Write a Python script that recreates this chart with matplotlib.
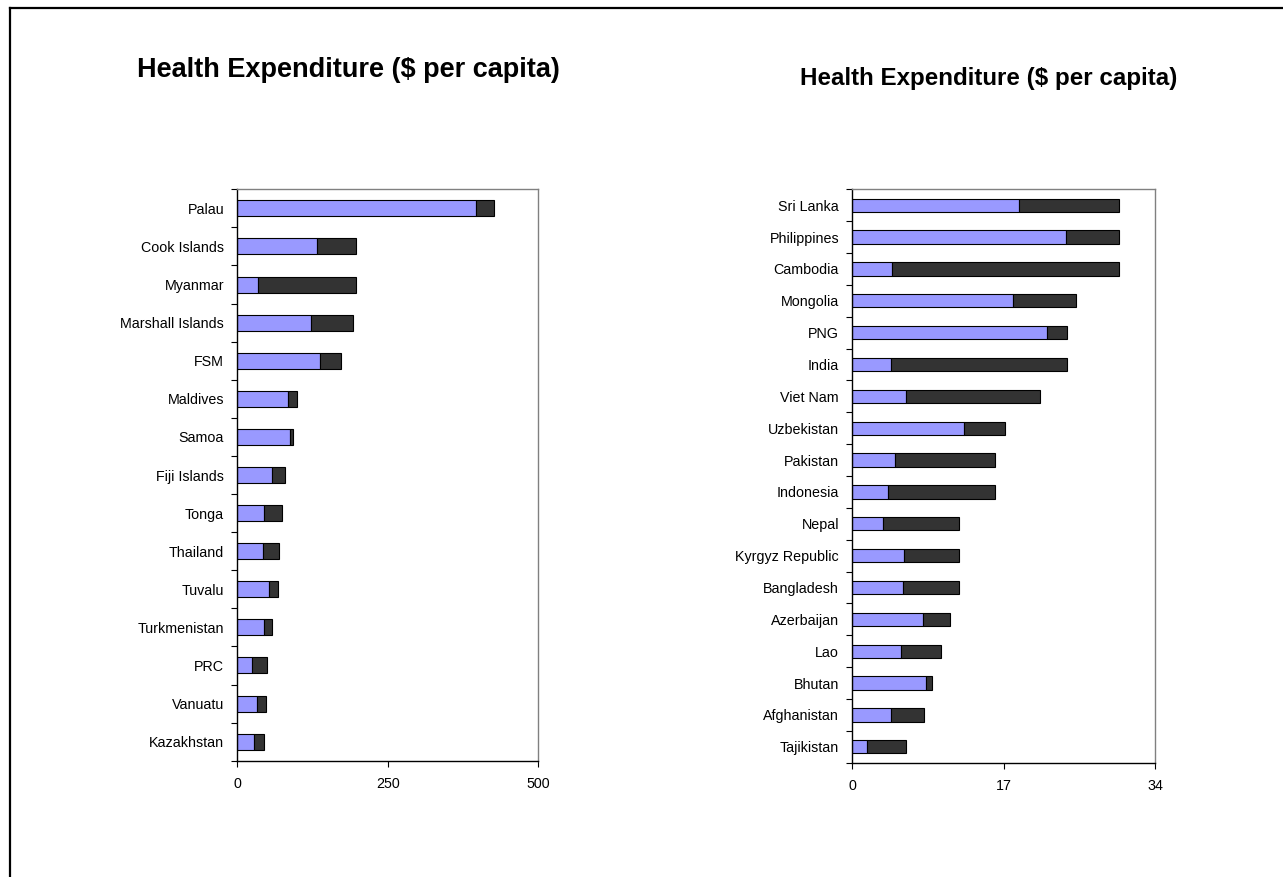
import matplotlib

matplotlib.use("Agg")
import matplotlib.pyplot as plt
from matplotlib.lines import Line2D

plt.rcParams["font.family"] = ["Liberation Sans", "DejaVu Sans"]

# ──────────────────────────────────────────────────────────────────────────────
# Data ($ per capita, blue segment + dark segment)
# ──────────────────────────────────────────────────────────────────────────────

left_names = [
    "Palau", "Cook Islands", "Myanmar", "Marshall Islands", "FSM", "Maldives",
    "Samoa", "Fiji Islands", "Tonga", "Thailand", "Tuvalu", "Turkmenistan",
    "PRC", "Vanuatu", "Kazakhstan",
]
left_public = [397, 133, 34, 122, 137, 84, 87, 58, 45, 43, 53, 45, 25, 32, 27]
left_private = [30, 65, 164, 70, 36, 15, 5, 21, 29, 27, 14, 13, 25, 15, 18]
left_ticks = [0, 250, 500]

right_names = [
    "Sri Lanka", "Philippines", "Cambodia", "Mongolia", "PNG", "India",
    "Viet Nam", "Uzbekistan", "Pakistan", "Indonesia", "Nepal",
    "Kyrgyz Republic", "Bangladesh", "Azerbaijan", "Lao", "Bhutan",
    "Afghanistan", "Tajikistan",
]
right_public = [18.7, 24.0, 4.5, 18.0, 21.9, 4.3, 6.0, 12.6, 4.8, 4.0, 3.5,
                5.8, 5.7, 7.9, 5.5, 8.3, 4.3, 1.7]
right_private = [11.3, 6.0, 25.5, 7.1, 2.2, 19.8, 15.1, 4.5, 11.2, 12.0, 8.5,
                 6.2, 6.3, 3.1, 4.5, 0.7, 3.7, 4.3]
right_ticks = [0, 17, 34]

TITLE = "Health Expenditure ($ per capita)"

BLUE = "#9999FF"
DARK = "#333333"
BAR_H = 0.42


def draw_panel(ax, names, public, private, ticks):
    n = len(names)
    ypos = list(range(n))
    ax.barh(ypos, public, height=BAR_H, color=BLUE, edgecolor="black", linewidth=0.8)
    ax.barh(ypos, private, left=public, height=BAR_H, color=DARK,
            edgecolor="black", linewidth=0.8)
    ax.set_ylim(n - 0.5, -0.5)
    ax.set_xlim(ticks[0], ticks[-1])

    # category labels, tick marks at category boundaries
    ax.set_yticks(ypos)
    ax.set_yticklabels(names, fontsize=10.3)
    ax.tick_params(axis="y", which="major", length=0, pad=9.5)
    ax.set_yticks([i - 0.5 for i in range(n + 1)], minor=True)
    ax.tick_params(axis="y", which="minor", length=4, width=0.8, direction="out")

    ax.set_xticks(ticks)
    ax.set_xticklabels([str(t) for t in ticks], fontsize=10.3)
    ax.tick_params(axis="x", length=4, width=0.8, direction="out", pad=8)

    for side in ("left", "bottom"):
        ax.spines[side].set_color("black")
        ax.spines[side].set_linewidth(1.0)
    for side in ("top", "right"):
        ax.spines[side].set_color("#808080")
        ax.spines[side].set_linewidth(1.0)


fig = plt.figure(figsize=(12.83, 8.77), dpi=100)

ax_l = fig.add_axes([0.18496, 0.13261, 0.2346, 0.65154])
ax_r = fig.add_axes([0.66430, 0.13033, 0.23593, 0.65382])

draw_panel(ax_l, left_names, left_public, left_private, left_ticks)
draw_panel(ax_r, right_names, right_public, right_private, right_ticks)

fig.text(348 / 1283, 1 - 70 / 877, TITLE, fontsize=19.5, fontweight="bold",
         ha="center", va="center")
fig.text(989 / 1283, 1 - 78 / 877, TITLE, fontsize=17.4, fontweight="bold",
         ha="center", va="center")

# outer frame (top and left edges visible in the reference)
fig.add_artist(Line2D([10 / 1283, 1.0], [1 - 7.5 / 877] * 2,
                      transform=fig.transFigure, color="black", linewidth=1.6))
fig.add_artist(Line2D([10 / 1283] * 2, [0.0, 1 - 7.5 / 877],
                      transform=fig.transFigure, color="black", linewidth=1.6))

fig.savefig("out.png", dpi=100)
